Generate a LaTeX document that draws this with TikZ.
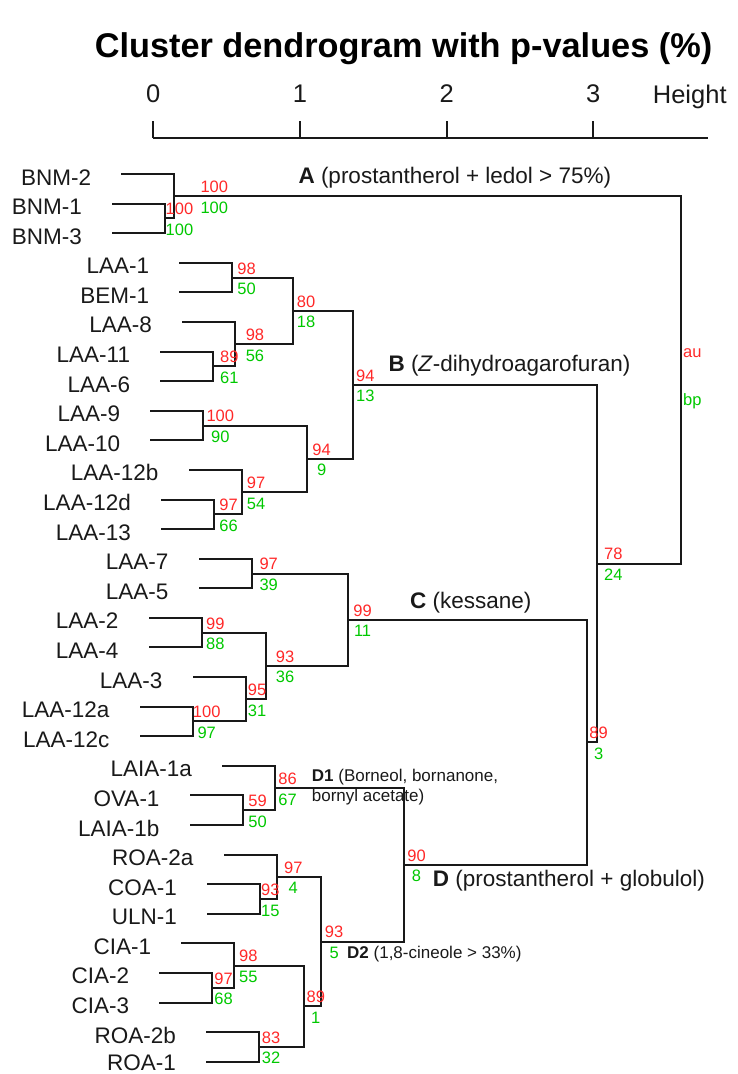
\documentclass[tikz,border=0pt]{standalone}
\usepackage{fontspec}
\setmainfont{Liberation Sans}
\usetikzlibrary{calc}
\definecolor{aured}{RGB}{255,40,40}
\definecolor{bpgreen}{RGB}{0,200,0}
\definecolor{ink}{RGB}{25,25,25}
\newcommand{\leaf}[5][11]{\coordinate (#2) at ({#4-52},#3); \node[leaflab] (#2t) at ({#4-83},{#3+#1}) {#5};}
\newcommand{\pv}[4]{\node[aulab] (#1au) at ([shift={(#2pt,3.6pt)}]#1) {#3}; \node[bplab] (#1bp) at ([shift={(#2pt,-17pt)}]#1) {#4};}
\begin{document}
\begin{tikzpicture}[x=1pt,y=-1pt,
 den/.style={draw=ink,line width=2pt},
 leaflab/.style={anchor=base east,inner sep=0pt,font=\fontsize{22.5}{27}\selectfont,text=ink},
 aulab/.style={anchor=base,inner sep=0pt,font=\fontsize{16.5}{20}\selectfont,text=aured},
 bplab/.style={anchor=base,inner sep=0pt,font=\fontsize{16.5}{20}\selectfont,text=bpgreen},
 grp/.style={anchor=base west,inner sep=0pt,font=\fontsize{22.5}{27}\selectfont,text=ink},
 sublab/.style={anchor=base west,inner sep=0pt,font=\fontsize{17}{20}\selectfont,text=ink},
 axlab/.style={anchor=base,inner sep=0pt,font=\fontsize{25.5}{30}\selectfont,text=ink},
]
\useasboundingbox (0,0) rectangle (737,1074);
% title
\node[anchor=base,inner sep=0pt,font=\bfseries\fontsize{34.3}{40}\selectfont] (title) at (403.5,57) {Cluster dendrogram with p-values (\%)};
% axis
\coordinate (ax0) at (153.3,137.7);
\coordinate (axend) at (707.7,137.7);
\draw[den] (ax0) -- (axend);
\foreach \i/\xx in {0/153.3,1/300,2/446.7,3/593.3}{
  \coordinate (t\i) at (\xx,137.7);
  \coordinate (tt\i) at (\xx,121);
  \draw[den] (t\i) -- (tt\i);
  \node[axlab] (tl\i) at (\xx,102) {\i};
}
\node[axlab,anchor=base west] (hlab) at (652.7,103) {Height};
% leaves
\leaf{l0}{174.0}{174.3}{BNM-2}
\leaf{l1}{203.6}{165}{BNM-1}
\leaf{l2}{233.2}{165}{BNM-3}
\leaf{l3}{262.8}{232.3}{LAA-1}
\leaf{l4}{292.4}{232.3}{BEM-1}
\leaf{l5}{321.95}{235}{LAA-8}
\leaf{l6}{351.5}{213.3}{LAA-11}
\leaf{l7}{381.1}{213.3}{LAA-6}
\leaf{l8}{410.7}{203.3}{LAA-9}
\leaf{l9}{440.3}{203.3}{LAA-10}
\leaf{l10}{469.9}{241.7}{LAA-12b}
\leaf{l11}{499.5}{214}{LAA-12d}
\leaf{l12}{529.1}{214}{LAA-13}
\leaf{l13}{558.7}{251.7}{LAA-7}
\leaf{l14}{588.3}{251.7}{LAA-5}
\leaf{l15}{617.85}{201.7}{LAA-2}
\leaf{l16}{647.4}{201.7}{LAA-4}
\leaf{l17}{677.0}{245.7}{LAA-3}
\leaf{l18}{706.6}{192.7}{LAA-12a}
\leaf{l19}{736.2}{192.7}{LAA-12c}
\leaf{l20}{765.8}{275}{LAIA-1a}
\leaf{l21}{795.4}{242.7}{OVA-1}
\leaf{l22}{825.0}{242.7}{LAIA-1b}
\leaf{l23}{854.6}{276.7}{ROA-2a}
\leaf{l24}{884.2}{260}{COA-1}
\leaf{l25}{913.75}{260}{ULN-1}
\leaf{l26}{943.3}{234.3}{CIA-1}
\leaf{l27}{972.9}{212.3}{CIA-2}
\leaf{l28}{1002.5}{212.3}{CIA-3}
\leaf{l29}{1032.1}{259}{ROA-2b}
\leaf[8.5]{l30}{1061.7}{259}{ROA-1}
% merge points
\coordinate (n1) at (165,218.4);
\coordinate (n2) at (174.3,196.2);
\coordinate (n3) at (232.3,277.6);
\coordinate (n4) at (213.3,366.3);
\coordinate (n5) at (235,344.1);
\coordinate (n6) at (293.3,310.85);
\coordinate (n7) at (203.3,425.5);
\coordinate (n8) at (214,514.3);
\coordinate (n9) at (241.7,492.1);
\coordinate (n10) at (307.3,458.8);
\coordinate (n11) at (353.3,384.8);
\coordinate (n12) at (251.7,573.5);
\coordinate (n13) at (201.7,632.6);
\coordinate (n14) at (192.7,721.4);
\coordinate (n15) at (245.7,699.2);
\coordinate (n16) at (265.7,665.9);
\coordinate (n17) at (348.3,619.7);
\coordinate (n21) at (242.7,810.2);
\coordinate (n22) at (275,788);
\coordinate (n23) at (260,899);
\coordinate (n24) at (276.7,876.8);
\coordinate (n25) at (212.3,987.7);
\coordinate (n26) at (234.3,965.5);
\coordinate (n27) at (259,1046.9);
\coordinate (n28) at (304,1006.2);
\coordinate (n29) at (320.7,941.5);
\coordinate (n30) at (404.3,864.75);
\coordinate (n18) at (587.3,742.2);
\coordinate (n19) at (596.7,563.5);
\coordinate (n20) at (681,379.85);
% connectors
\foreach \a/\b in {l1/n1,l2/n1,l0/n2,n1/n2,l3/n3,l4/n3,l6/n4,l7/n4,l5/n5,n4/n5,n3/n6,n5/n6,
  l8/n7,l9/n7,l11/n8,l12/n8,l10/n9,n8/n9,n7/n10,n9/n10,n6/n11,n10/n11,
  l13/n12,l14/n12,l15/n13,l16/n13,l18/n14,l19/n14,l17/n15,n14/n15,n13/n16,n15/n16,n12/n17,n16/n17,
  l21/n21,l22/n21,l20/n22,n21/n22,l24/n23,l25/n23,l23/n24,n23/n24,l27/n25,l28/n25,l26/n26,n25/n26,
  l29/n27,l30/n27,n26/n28,n27/n28,n24/n29,n28/n29,n22/n30,n29/n30,n17/n18,n30/n18,n11/n19,n18/n19,
  n2/n20,n19/n20}{
  \draw[den,line cap=rect] (\a) -| (\b);
}
% group labels
\node[grp] (gA) at (298.3,183.3) {\textbf{A} (prostantherol + ledol > 75\%)};
\node[grp] (gB) at (388.3,371.7) {\textbf{B} (\textit{Z}-dihydroagarofuran)};
\node[grp] (gC) at (410,608.3) {\textbf{C} (kessane)};
\node[grp] (gD) at (432.7,886.7) {\textbf{D} (prostantherol + globulol)};
\node[sublab] (gD1a) at (311.7,781.7) {\textbf{D1} (Borneol, bornanone,};
\node[sublab] (gD1b) at (311.7,801.7) {bornyl acetate)};
\node[sublab] (gD2) at (347,958.8) {\textbf{D2} (1,8-cineole > 33\%)};
% p-values
\pv{n1}{14.5}{100}{100}
\pv{n2}{40}{100}{100}
\pv{n3}{14.3}{98}{50}
\pv{n4}{16}{89}{61}
\pv{n5}{20}{98}{56}
\pv{n6}{12.7}{80}{18}
\pv{n7}{17}{100}{90}
\pv{n8}{14.6}{97}{66}
\pv{n9}{14.3}{97}{54}
\pv{n10}{14.3}{94}{9}
\pv{n11}{12}{94}{13}
\pv{n12}{17}{97}{39}
\pv{n13}{13.6}{99}{88}
\pv{n14}{14}{100}{97}
\pv{n15}{11.3}{95}{31}
\pv{n16}{19.3}{93}{36}
\pv{n17}{14.3}{99}{11}
\pv{n18}{11.3}{89}{3}
\pv{n19}{16.6}{78}{24}
\pv{n21}{14.9}{59}{50}
\pv{n22}{12.6}{86}{67}
\pv{n23}{10.3}{93}{15}
\pv{n24}{16.6}{97}{4}
\pv{n25}{11.3}{97}{68}
\pv{n26}{14}{98}{55}
\pv{n27}{12}{83}{32}
\pv{n28}{11.8}{89}{1}
\pv{n29}{13.4}{93}{5}
\pv{n30}{12.2}{90}{8}
\node[aulab] (n20au) at ([shift={(11.3pt,22.85pt)}]n20) {au};
\node[bplab] (n20bp) at ([shift={(11.3pt,-25.15pt)}]n20) {bp};
\end{tikzpicture}
\end{document}
